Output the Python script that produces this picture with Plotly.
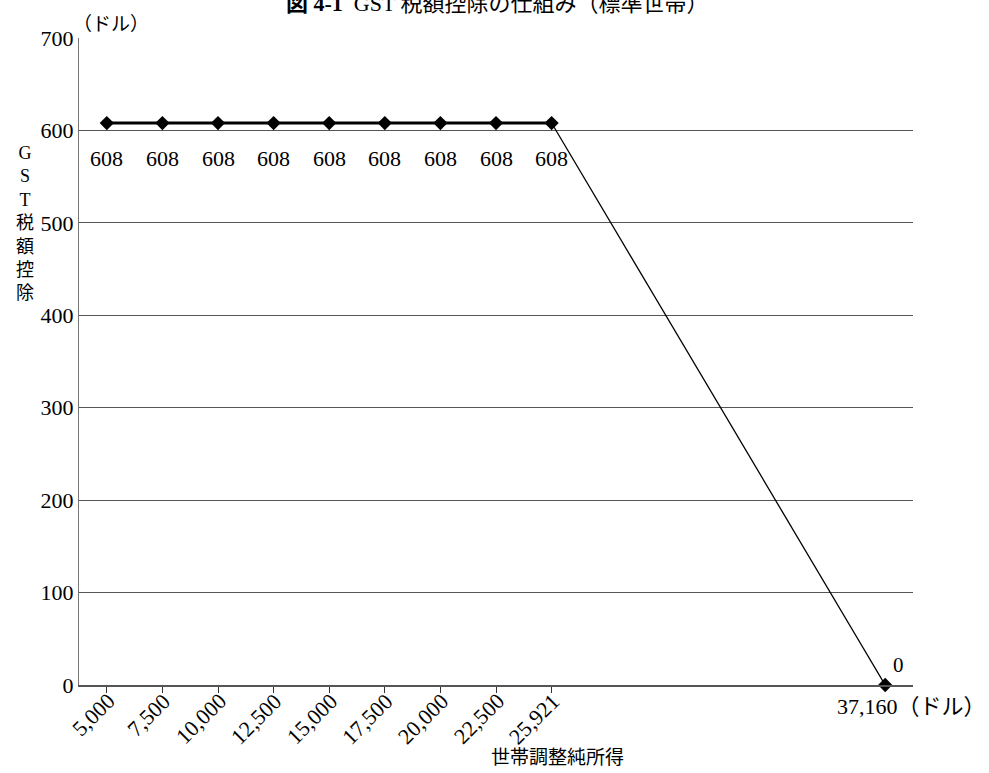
import plotly.graph_objects as go

# Household adjusted net income (dollars) and the GST credit (dollars)
incomes = [5000, 7500, 10000, 12500, 15000, 17500, 20000, 22500, 25921]
credits = [608, 608, 608, 608, 608, 608, 608, 608, 608]
phaseout_income = 37160
phaseout_credit = 0
tick_labels = ["5,000", "7,500", "10,000", "12,500", "15,000",
               "17,500", "20,000", "22,500", "25,921"]
y_title = "GST税額控除"

SERIF = "Liberation Serif, Noto Sans CJK JP, serif"
PLOT_H = 773 - 38 - 88

# Category slots on the x axis; the phase-out end sits a few slots to the right
slots = list(range(len(incomes)))
end_slot = slots[-1] + 6

fig = go.Figure()

# Phase-out segment (thin line)
fig.add_trace(go.Scatter(
    x=[slots[-1], end_slot], y=[credits[-1], phaseout_credit],
    mode="lines", line=dict(color="black", width=1.3),
    hoverinfo="skip", showlegend=False))

# Flat credit segment (thick line with diamond markers)
fig.add_trace(go.Scatter(
    x=slots, y=credits, mode="lines+markers",
    line=dict(color="black", width=3),
    marker=dict(symbol="diamond", size=11, color="black"),
    showlegend=False))

# End point at zero credit
fig.add_trace(go.Scatter(
    x=[end_slot], y=[phaseout_credit], mode="markers+text",
    marker=dict(symbol="diamond", size=11, color="black"),
    text=[str(phaseout_credit)], textposition="top right",
    textfont=dict(family=SERIF, size=21, color="black"),
    showlegend=False, cliponaxis=False))

# Value labels under each flat-segment point
for s, v in zip(slots, credits):
    fig.add_annotation(x=s, y=v, xref="x", yref="y", text=str(v),
                       showarrow=False, xanchor="center", yanchor="middle",
                       yshift=-35,
                       font=dict(family=SERIF, size=22, color="black"))

# Slanted income labels hanging from each tick
for s, lab in zip(slots, tick_labels):
    fig.add_annotation(x=s, y=0, xref="x", yref="y", text=lab,
                       textangle=-45, showarrow=False, borderpad=0,
                       xanchor="right", yanchor="top",
                       xshift=15, yshift=-2,
                       font=dict(family=SERIF, size=22, color="black"))

fig.update_layout(
    width=989, height=773,
    margin=dict(l=79, r=76, t=38, b=88),
    plot_bgcolor="white", paper_bgcolor="white",
    font=dict(family=SERIF, size=20, color="black"),
    xaxis=dict(
        range=[-0.5, end_slot + 0.5],
        tickmode="array", tickvals=slots, ticktext=tick_labels,
        showticklabels=False,
        ticks="outside", ticklen=6, tickcolor="#333",
        showgrid=False, zeroline=False,
        showline=True, linecolor="#555", linewidth=1.5,
    ),
    yaxis=dict(
        range=[0, 700], tickvals=[0, 100, 200, 300, 400, 500, 600, 700],
        showgrid=True, gridcolor="#555", gridwidth=1.2,
        zeroline=False, showline=True, linecolor="#777", linewidth=1.2,
        ticks="", tickfont=dict(family=SERIF, size=22, color="black"),
    ),
)

# Unit label for the phase-out income
fig.add_annotation(x=end_slot, y=0, xref="x", yref="y", text="37,160（ドル）",
                   showarrow=False, xanchor="left", yanchor="top",
                   xshift=-50, yshift=-7,
                   font=dict(family=SERIF, size=22, color="black"))
# Unit label for the y axis
fig.add_annotation(x=0, y=1, xref="paper", yref="paper", text="（ドル）",
                   showarrow=False, xanchor="left", yanchor="bottom",
                   xshift=-8, yshift=1,
                   font=dict(family=SERIF, size=19, color="black"))
# Vertical y-axis title, one character per line
fig.add_annotation(x=0, y=(685 - 141) / PLOT_H, xref="paper", yref="paper",
                   text="<br>".join(y_title), showarrow=False,
                   xanchor="center", yanchor="top", xshift=-54,
                   font=dict(family=SERIF, size=18, color="black"))
# x-axis title
fig.add_annotation(x=(557 - 79) / 834, y=0, xref="paper", yref="paper",
                   text="世帯調整純所得",
                   showarrow=False, xanchor="center", yanchor="middle",
                   yshift=-72,
                   font=dict(family=SERIF, size=19, color="black"))
# Figure title
fig.add_annotation(x=(497 - 79) / 834, y=1, xref="paper", yref="paper",
                   text="<b>図 4-1</b>  GST 税額控除の仕組み（標準世帯）",
                   showarrow=False, xanchor="center", yanchor="middle",
                   yshift=35,
                   font=dict(family=SERIF, size=22, color="black"))

fig.write_html("out.html")
